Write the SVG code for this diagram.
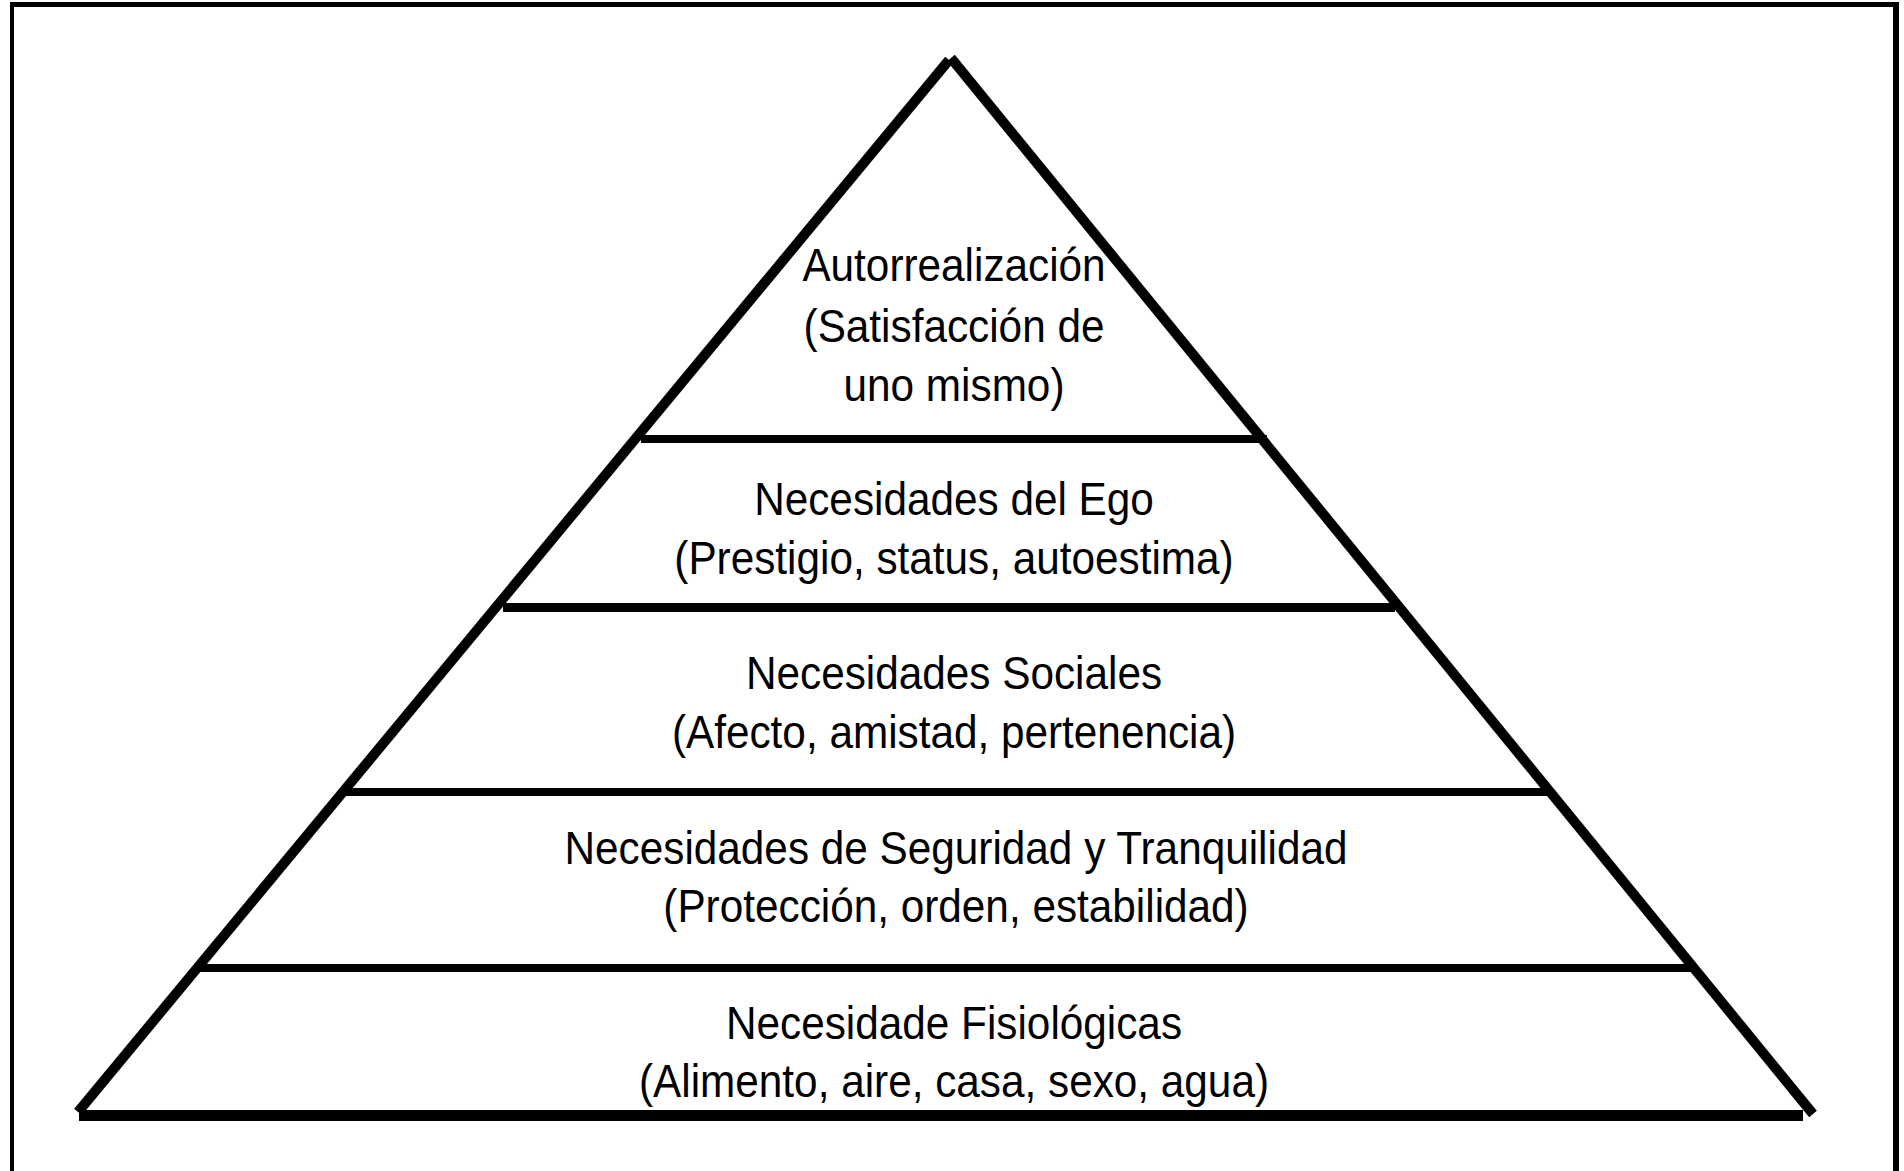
<svg xmlns="http://www.w3.org/2000/svg" width="1904" height="1171" viewBox="0 0 1904 1171">
<style>
.t{font-family:"Liberation Sans",Arial,sans-serif;font-size:47px;fill:#000;text-anchor:middle}
.ln{stroke:#000;fill:none}
</style>
<rect x="0" y="0" width="1904" height="1171" fill="#fff"/>
<g id="frame">
<line class="ln" x1="12" y1="2" x2="12" y2="1171" stroke-width="4"/>
<line class="ln" x1="10" y1="4.5" x2="1899" y2="4.5" stroke-width="5"/>
<line class="ln" x1="1896" y1="2" x2="1896" y2="1171" stroke-width="6"/>
</g>
<g id="connectors">
<line class="ln" x1="949" y1="60" x2="78" y2="1112" stroke-width="10"/>
<line class="ln" x1="951" y1="58" x2="1813" y2="1114" stroke-width="10"/>
<line class="ln" x1="79" y1="1115.5" x2="1803" y2="1115.5" stroke-width="11"/>
<line class="ln" x1="641" y1="439" x2="1267" y2="439" stroke-width="8"/>
<line class="ln" x1="503" y1="607.5" x2="1395" y2="607.5" stroke-width="9"/>
<line class="ln" x1="346" y1="792" x2="1547" y2="792" stroke-width="8"/>
<line class="ln" x1="200" y1="968" x2="1691" y2="968" stroke-width="8"/>
</g>
<g id="level5" transform="translate(954 0) scale(0.9 1)">
<text class="t" x="0" y="281">Autorrealización</text>
<text class="t" x="0" y="342">(Satisfacción de</text>
<text class="t" x="0" y="401">uno mismo)</text>
</g>
<g id="level4" transform="translate(954 0) scale(0.9 1)">
<text class="t" x="0" y="515">Necesidades del Ego</text>
<text class="t" x="0" y="574">(Prestigio, status, autoestima)</text>
</g>
<g id="level3" transform="translate(954 0) scale(0.9 1)">
<text class="t" x="0" y="689">Necesidades Sociales</text>
<text class="t" x="0" y="748">(Afecto, amistad, pertenencia)</text>
</g>
<g id="level2" transform="translate(956 0) scale(0.9 1)">
<text class="t" x="0" y="864">Necesidades de Seguridad y Tranquilidad</text>
<text class="t" x="0" y="922">(Protección, orden, estabilidad)</text>
</g>
<g id="level1" transform="translate(954 0) scale(0.9 1)">
<text class="t" x="0" y="1039">Necesidade Fisiológicas</text>
<text class="t" x="0" y="1097">(Alimento, aire, casa, sexo, agua)</text>
</g>
</svg>
